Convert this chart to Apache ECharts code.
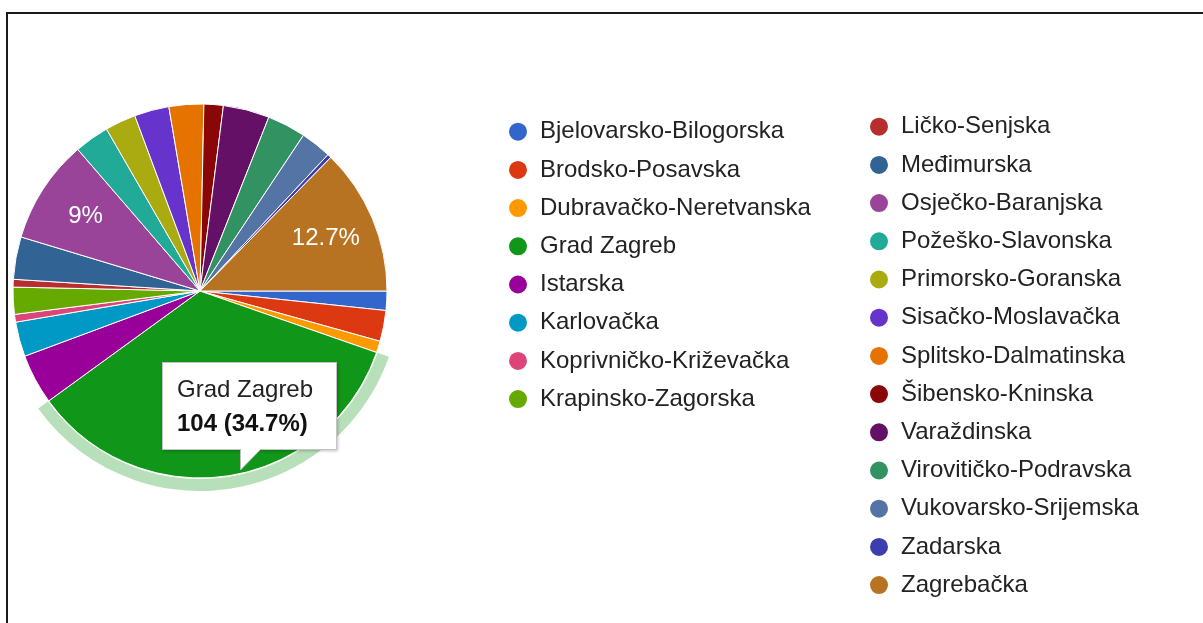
<!DOCTYPE html>
<html>
<head>
<meta charset="utf-8">
<script src="https://cdn.jsdelivr.net/npm/echarts@6/dist/echarts.min.js"></script>
<style>
  html, body { margin: 0; padding: 0; background: #fff; }
  #frame {
    position: absolute; left: 6px; top: 12px; right: 0; bottom: 0;
    border-top: 2px solid #1a1a1a; border-left: 2px solid #1a1a1a;
  }
  #chart { position: absolute; left: 0; top: 0; width: 1203px; height: 623px; }
</style>
</head>
<body>
<div id="frame"></div>
<div id="chart"></div>
<script>
// counties (legend order = slice order, clockwise from 3 o'clock)
const counties = [
    'Bjelovarsko-Bilogorska', 'Brodsko-Posavska', 'Dubravačko-Neretvanska', 'Grad Zagreb',
    'Istarska', 'Karlovačka', 'Koprivničko-Križevačka', 'Krapinsko-Zagorska',
    'Ličko-Senjska', 'Međimurska', 'Osječko-Baranjska', 'Požeško-Slavonska',
    'Primorsko-Goranska', 'Sisačko-Moslavačka', 'Splitsko-Dalmatinska', 'Šibensko-Kninska',
    'Varaždinska', 'Virovitičko-Podravska', 'Vukovarsko-Srijemska', 'Zadarska', 'Zagrebačka'
];
const counts = [5, 8, 3, 104, 13, 9, 2, 7, 2, 11, 27, 9, 8, 9, 9, 5, 12, 10, 8, 1, 38];
const colors = [
    '#3366cc', '#dc3912', '#ff9900', '#109618', '#990099', '#0099c6', '#dd4477',
    '#66aa00', '#b82e2e', '#316395', '#994499', '#22aa99', '#aaaa11', '#6633cc',
    '#e67300', '#8b0707', '#651067', '#329262', '#5574a6', '#3b3eac', '#b77322'
];
const leftLegend = counties.slice(0, 8);
const rightLegend = counties.slice(8);
const highlighted = 'Grad Zagreb';

const FONT = 'Liberation Sans, Arial, sans-serif';
const pieCenter = [200, 291];

const pieData = counties.map((name, i) => ({ name: name, value: counts[i] }));

const legendBase = {
    orient: 'vertical',
    icon: 'circle',
    padding: 0,
    height: 520,
    itemWidth: 20,
    itemHeight: 24,
    itemGap: 14.2,
    selectedMode: false,
    textStyle: {
        fontFamily: FONT,
        fontSize: 24,
        color: '#222',
        lineHeight: 24,
        padding: [0, 0, 0, 7]
    }
};

const chart = echarts.init(document.getElementById('chart'));
chart.setOption({
    animation: false,
    color: colors,
    tooltip: {
        trigger: 'item',
        triggerOn: 'none',
        alwaysShowContent: true,
        transitionDuration: 0,
        position: [162, 362],
        padding: [9, 14],
        backgroundColor: '#fff',
        borderColor: '#c4c4c4',
        borderWidth: 1,
        shadowBlur: 3,
        shadowColor: 'rgba(0,0,0,0.25)',
        shadowOffsetX: 1,
        shadowOffsetY: 1,
        textStyle: { fontFamily: FONT, fontSize: 24, color: '#222', lineHeight: 34 },
        extraCssText: 'width:145px;border-radius:0;',
        formatter: function (p) {
            const arrow = '<svg width="24" height="23" style="position:absolute;left:77px;top:100%;overflow:visible">'
                + '<polygon points="0,0 0.5,21 21,0" fill="#fff"/>'
                + '<polyline points="0.5,0 0.5,21 21,0" fill="none" stroke="#bdbdbd"/></svg>';
            return p.name + '<br><b style="color:#111">' + p.value + ' (' + p.percent + '%)</b>' + arrow;
        }
    },
    legend: [
        Object.assign({}, legendBase, { data: leftLegend, left: 507, top: 119.7 }),
        Object.assign({}, legendBase, { data: rightLegend, left: 868, top: 114.7 })
    ],
    series: [
        {
            type: 'pie',
            center: pieCenter,
            radius: [0, 187],
            startAngle: 0,
            clockwise: true,
            percentPrecision: 1,
            emphasis: { disabled: true },
            label: { show: false },
            labelLine: { show: false },
            itemStyle: { borderColor: '#fff', borderWidth: 1 },
            data: pieData
        },
        {
            // slice percentage labels
            type: 'pie',
            center: pieCenter,
            radius: [80, 187],
            startAngle: 0,
            clockwise: true,
            percentPrecision: 1,
            silent: true,
            tooltip: { show: false },
            itemStyle: { color: 'rgba(0,0,0,0)', borderWidth: 0 },
            labelLine: { show: false },
            label: {
                show: true,
                position: 'inside',
                fontFamily: FONT,
                fontSize: 24,
                color: '#fff',
                formatter: function (p) { return p.percent >= 5 ? p.percent + '%' : ''; }
            },
            data: pieData
        },
        {
            // hover ring around the highlighted slice
            type: 'pie',
            center: pieCenter,
            radius: [188, 200],
            startAngle: 0,
            clockwise: true,
            silent: true,
            tooltip: { show: false },
            label: { show: false },
            labelLine: { show: false },
            data: pieData.map(d => ({
                name: d.name,
                value: d.value,
                itemStyle: { color: d.name === highlighted ? 'rgba(16,150,24,0.3)' : 'rgba(0,0,0,0)', borderWidth: 0 }
            }))
        }
    ]
});

chart.dispatchAction({ type: 'showTip', seriesIndex: 0, dataIndex: counties.indexOf(highlighted) });
</script>
</body>
</html>
